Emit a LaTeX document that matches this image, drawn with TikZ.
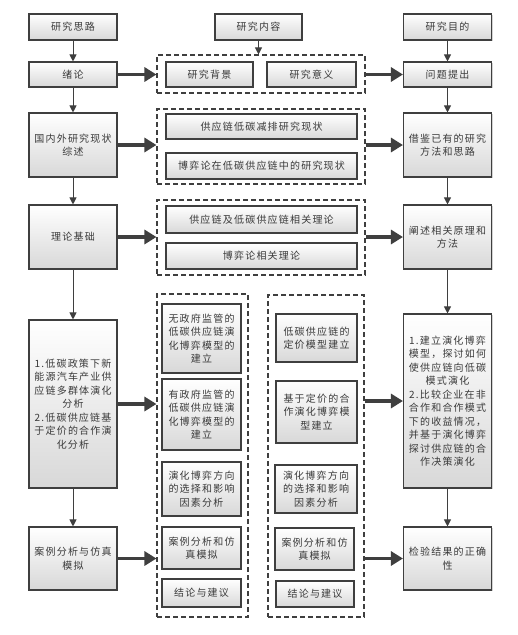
\documentclass[tikz,border=0pt]{standalone}
\usepackage{fontspec}
\setmainfont[LetterSpace=12]{Noto Sans CJK SC}
\usetikzlibrary{arrows.meta, positioning, shadows}
\definecolor{boxline}{HTML}{3F3F3F}
\definecolor{boxtext}{HTML}{3A3A3A}
\definecolor{boxfill}{HTML}{D8D8D8}

\begin{document}
\begin{tikzpicture}[
    x=1pt, y=-1pt,
    boxnode/.style={draw=boxline, line width=1.1pt, top color=white, bottom color=boxfill, text=boxtext, align=center, inner sep=1pt,
        drop shadow={shadow xshift=1.3pt, shadow yshift=-1.3pt, opacity=0.35}},
    sidebox/.style={boxnode, minimum width=88pt},
    groupnode/.style={draw=boxline, line width=1.1pt, dash pattern=on 5pt off 3pt, inner sep=0pt},
    arrow/.style={-{Triangle[length=7pt,width=7pt]}, line width=1pt, draw=boxline},
    thickarrow/.style={-{Triangle[length=12pt,width=14pt]}, line width=3.8pt, draw=boxline},
    font=\fontsize{10}{13.5}\selectfont
]
\useasboundingbox (0,0) rectangle (518,635);

% Left column: research approach
\node[sidebox, minimum height=26pt] (siwei) at (73,27) {研究思路};
\node[sidebox, minimum height=25pt] (xulun) at (73,74.5) {绪论};
\node[sidebox, minimum height=64pt] (zongshu) at (73,145) {国内外研究现状\\综述};
\node[sidebox, minimum height=64pt] (lilun) at (73,237) {理论基础};
\node[sidebox, minimum height=168pt] (fenxi) at (73,404) {1.低碳政策下新\\能源汽车产业供\\应链多群体演化\\分析\\2.低碳供应链基\\于定价的合作演\\化分析};
\node[sidebox, minimum height=63pt] (anli) at (73,558.5) {案例分析与仿真\\模拟};

% Right column: research goals
\node[sidebox, minimum height=26pt] (mudi) at (447.5,27) {研究目的};
\node[sidebox, minimum height=25pt] (tichu) at (447.5,74.5) {问题提出};
\node[sidebox, minimum height=64pt] (jiejian) at (447.5,145) {借鉴已有的研究\\方法和思路};
\node[sidebox, minimum height=64pt] (chanshu) at (447.5,237) {阐述相关原理和\\方法};
\node[sidebox, minimum height=174pt] (mubiao) at (447.5,401) {1.建立演化博弈\\模型，探讨如何\\使供应链向低碳\\模式演化\\2.比较企业在非\\合作和合作模式\\下的收益情况，\\并基于演化博弈\\探讨供应链的合\\作决策演化};
\node[sidebox, minimum height=63pt] (jianyan) at (447.5,558.5) {检验结果的正确\\性};

% Middle column: research content
\node[boxnode, minimum width=87pt, minimum height=26pt] (neirong) at (258.5,27) {研究内容};

\node[groupnode, minimum width=208pt, minimum height=38pt] (grp1) at (261,74) {};
\node[boxnode, minimum width=87pt, minimum height=25pt] (beijing) at (209.5,74.5) {研究背景};
\node[boxnode, minimum width=89pt, minimum height=25pt] (yiyi) at (311.5,74.5) {研究意义};

\node[groupnode, minimum width=208pt, minimum height=75pt] (grp2) at (261,146.5) {};
\node[boxnode, minimum width=191pt, minimum height=25pt] (xianzhuang) at (261.5,126.5) {供应链低碳减排研究现状};
\node[boxnode, minimum width=191pt, minimum height=26pt] (boyi) at (261.5,166) {博弈论在低碳供应链中的研究现状};

\node[groupnode, minimum width=208pt, minimum height=75pt] (grp3) at (261,237.5) {};
\node[boxnode, minimum width=191pt, minimum height=27pt] (lilun1) at (261.5,219.5) {供应链及低碳供应链相关理论};
\node[boxnode, minimum width=191pt, minimum height=26pt] (lilun2) at (261.5,256) {博弈论相关理论};

\node[groupnode, minimum width=91pt, minimum height=323pt] (grp4) at (202.5,455.5) {};
\node[boxnode, minimum width=79pt, minimum height=69pt] (wuzf) at (201.5,338.5) {无政府监管的\\低碳供应链演\\化博弈模型的\\建立};
\node[boxnode, minimum width=79pt, minimum height=71pt] (youzf) at (201.5,414.5) {有政府监管的\\低碳供应链演\\化博弈模型的\\建立};
\node[boxnode, minimum width=79pt, minimum height=54pt] (fangxA) at (201.5,489) {演化博弈方向\\的选择和影响\\因素分析};
\node[boxnode, minimum width=79pt, minimum height=42pt] (fangzA) at (201.5,548) {案例分析和仿\\真模拟};
\node[boxnode, minimum width=79pt, minimum height=28pt] (jielunA) at (201.5,593) {结论与建议};

\node[groupnode, minimum width=96pt, minimum height=322pt] (grp5) at (316,456) {};
\node[boxnode, minimum width=81pt, minimum height=48pt] (dingjia) at (316.5,338) {低碳供应链的\\定价模型建立};
\node[boxnode, minimum width=81pt, minimum height=62pt] (hezuo) at (316.5,412) {基于定价的合\\作演化博弈模\\型建立};
\node[boxnode, minimum width=82pt, minimum height=48pt] (fangxB) at (316,489) {演化博弈方向\\的选择和影响\\因素分析};
\node[boxnode, minimum width=79pt, minimum height=42pt] (fangzB) at (314.5,549) {案例分析和仿\\真模拟};
\node[boxnode, minimum width=78pt, minimum height=26pt] (jielunB) at (315,594) {结论与建议};

% Thin arrows down the side columns
\draw[arrow] (siwei) -- (xulun);
\draw[arrow] (xulun) -- (zongshu);
\draw[arrow] (zongshu) -- (lilun);
\draw[arrow] (lilun) -- (fenxi);
\draw[arrow] (fenxi) -- (anli);
\draw[arrow] (mudi) -- (tichu);
\draw[arrow] (tichu) -- (jiejian);
\draw[arrow] (jiejian) -- (chanshu);
\draw[arrow] (chanshu) -- (mubiao);
\draw[arrow] (mubiao) -- (jianyan);
\draw[arrow] (neirong.south) -- (neirong.south |- grp1.north);

% Thick arrows across the rows
\draw[thickarrow] (xulun.east) -- (xulun.east -| grp1.west);
\draw[thickarrow] (zongshu.east) -- (zongshu.east -| grp2.west);
\draw[thickarrow] (lilun.east) -- (lilun.east -| grp3.west);
\draw[thickarrow] (fenxi.east) -- (fenxi.east -| grp4.west);
\draw[thickarrow] (anli.east) -- (anli.east -| grp4.west);
\draw[thickarrow] (grp1.east |- tichu.west) -- (tichu.west);
\draw[thickarrow] (grp2.east |- jiejian.west) -- (jiejian.west);
\draw[thickarrow] (grp3.east |- chanshu.west) -- (chanshu.west);
\draw[thickarrow] (grp5.east |- mubiao.west) -- (mubiao.west);
\draw[thickarrow] (grp5.east |- jianyan.west) -- (jianyan.west);

\end{tikzpicture}
\end{document}
